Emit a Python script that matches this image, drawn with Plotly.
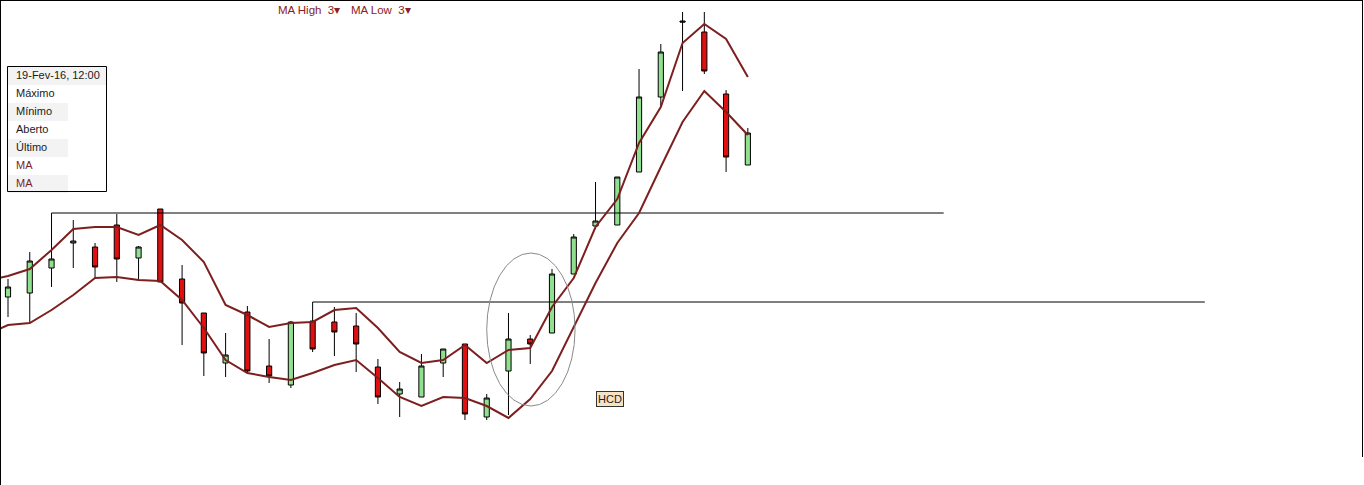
import plotly.graph_objects as go

# ---------------- data ----------------
idx = list(range(1, 36))
opens = [20.3, 20.7, 23.2, 25.7, 25.3, 27.5, 24.2, 29.1, 22.1, 18.7,
         13.7, 18.8, 13.4, 11.5, 17.9, 17.8, 17.4, 13.3, 10.6, 10.3,
         13.7, 15.6, 8.3, 12.9, 16.1, 16.7, 22.6, 27.4, 27.5, 32.8,
         40.3, 47.9, 46.8, 40.6, 33.5]
highs = [22.1, 24.8, 28.7, 28.0, 25.7, 28.6, 25.4, 29.1, 23.5, 18.7,
         16.7, 19.4, 16.1, 17.9, 19.8, 19.3, 18.7, 14.1, 11.8, 14.6,
         15.1, 15.6, 10.6, 18.7, 16.5, 23.1, 26.6, 31.8, 32.3, 43.1,
         45.6, 48.8, 48.8, 41.0, 37.2]
lows = [18.3, 17.7, 21.3, 23.2, 22.2, 21.8, 22.0, 21.8, 15.5, 12.4,
        12.3, 12.8, 11.7, 11.2, 14.8, 14.4, 12.8, 9.6, 8.3, 10.3,
        12.3, 8.0, 8.0, 8.5, 13.6, 16.7, 22.6, 27.3, 27.5, 32.8,
        39.3, 40.9, 42.6, 32.8, 33.5]
closes = [21.3, 23.9, 24.1, 25.9, 23.3, 24.1, 25.3, 21.8, 19.7, 14.7,
          14.5, 12.9, 12.4, 17.8, 15.1, 16.8, 15.6, 10.3, 11.1, 13.4,
          15.1, 8.6, 10.2, 16.1, 15.6, 22.6, 26.3, 27.9, 32.3, 40.3,
          44.8, 47.8, 42.9, 34.3, 36.7]

ma_idx = list(range(0, 36))
ma_high = [21.9, 22.4, 23.1, 25.0, 27.1, 27.3, 27.3, 26.5, 27.5, 26.0,
           23.8, 19.5, 18.5, 17.3, 17.7, 17.8, 19.0, 19.2, 17.2, 14.8,
           13.7, 14.0, 15.5, 13.7, 15.0, 15.2, 19.3, 22.2, 27.3, 30.1,
           35.7, 39.3, 45.7, 47.6, 46.1, 42.3]
ma_low = [16.5, 17.5, 17.7, 19.0, 20.5, 22.2, 22.3, 22.0, 21.9, 20.0,
          17.2, 14.0, 12.7, 12.3, 12.0, 12.7, 13.5, 14.0, 12.2, 10.3,
          9.4, 10.3, 10.2, 9.4, 8.2, 10.1, 12.9, 17.3, 21.7, 25.7,
          28.7, 33.3, 37.8, 40.9, 38.8, 36.5]

# horizontal resistance lines: (start index, end index, level)
hline1_x = [3, 44]
hline1_y = [28.7, 28.7]
hline2_x = [15, 56]
hline2_y = [19.8, 19.8]

# ellipse (data coords)
ell_x = [23.0, 27.06]
ell_y = [9.4, 24.7]

hcd_x, hcd_y, hcd_text = 28.67, 10.1, "HCD"

legend_title = "19-Fev-16, 12:00"
legend_rows = ["Máximo", "Mínimo", "Aberto", "Último", "MA", "MA"]
top_labels = ["MA High  3▾", "MA Low  3▾"]

W, H = 1364, 485
MA_COLOR = "#7d1f1f"
FONT = "Liberation Sans, Arial, sans-serif"


def px(x):
    return x / W


def py(y):
    return 1 - y / H


fig = go.Figure()

fig.add_trace(go.Candlestick(
    x=idx, open=opens, high=highs, low=lows, close=closes,
    increasing=dict(line=dict(color="#000000", width=1), fillcolor="#90e090"),
    decreasing=dict(line=dict(color="#000000", width=1), fillcolor="#e01010"),
    whiskerwidth=0, showlegend=False, hoverinfo="skip",
))

fig.add_trace(go.Scatter(x=hline1_x, y=hline1_y, mode="lines",
                         line=dict(color="#000000", width=1), showlegend=False, hoverinfo="skip"))
fig.add_trace(go.Scatter(x=hline2_x, y=hline2_y, mode="lines",
                         line=dict(color="#000000", width=1), showlegend=False, hoverinfo="skip"))

fig.add_trace(go.Scatter(x=ma_idx, y=ma_high, mode="lines",
                         line=dict(color=MA_COLOR, width=2), showlegend=False, hoverinfo="skip"))
fig.add_trace(go.Scatter(x=ma_idx, y=ma_low, mode="lines",
                         line=dict(color=MA_COLOR, width=2), showlegend=False, hoverinfo="skip"))

shapes = []
shapes.append(dict(type="circle", xref="x", yref="y", x0=ell_x[0], x1=ell_x[1],
                   y0=ell_y[0], y1=ell_y[1], line=dict(color="#8a8a8a", width=1)))
# frame
shapes.append(dict(type="line", xref="paper", yref="paper", x0=0, x1=px(1363),
                   y0=py(0.5), y1=py(0.5), line=dict(color="#000", width=1)))
shapes.append(dict(type="line", xref="paper", yref="paper", x0=px(0.5), x1=px(0.5),
                   y0=0, y1=1, line=dict(color="#000", width=1)))
shapes.append(dict(type="line", xref="paper", yref="paper", x0=px(1362.5), x1=px(1362.5),
                   y0=py(457), y1=1, line=dict(color="#000", width=1)))

# legend box
shapes.append(dict(type="rect", xref="paper", yref="paper", x0=px(8), x1=px(106),
                   y0=py(85), y1=py(67), fillcolor="#f3f3f3", line=dict(width=0), layer="below"))
for r in (1, 3, 5):
    top = 85 + 18 * r
    shapes.append(dict(type="rect", xref="paper", yref="paper", x0=px(8), x1=px(68),
                       y0=py(top + 18), y1=py(top), fillcolor="#f3f3f3",
                       line=dict(width=0), layer="below"))
shapes.append(dict(type="rect", xref="paper", yref="paper", x0=px(7.5), x1=px(106.5),
                   y0=py(191.5), y1=py(66.5), line=dict(color="#000", width=1)))

annotations = []
annotations.append(dict(xref="paper", yref="paper", x=px(14), y=py(75), text=legend_title,
                        showarrow=False, xanchor="left", yanchor="middle",
                        font=dict(family=FONT, size=11, color="#1a1a1a")))
for i, name in enumerate(legend_rows):
    color = MA_COLOR if name == "MA" else "#1a1a1a"
    annotations.append(dict(xref="paper", yref="paper", x=px(14), y=py(93 + 18 * i), text=name,
                            showarrow=False, xanchor="left", yanchor="middle",
                            font=dict(family=FONT, size=11, color=color)))

annotations.append(dict(xref="paper", yref="paper", x=px(276), y=py(10), text=top_labels[0],
                        showarrow=False, xanchor="left", yanchor="middle",
                        font=dict(family=FONT, size=11.5, color="#8b2020")))
annotations.append(dict(xref="paper", yref="paper", x=px(349), y=py(10), text=top_labels[1],
                        showarrow=False, xanchor="left", yanchor="middle",
                        font=dict(family=FONT, size=11.5, color="#8b2020")))

annotations.append(dict(xref="x", yref="y", x=hcd_x, y=hcd_y, text=hcd_text, showarrow=False,
                        bgcolor="#f8e2c4", bordercolor="#333", borderwidth=1, borderpad=1,
                        font=dict(family=FONT, size=11, color="#222")))

x0 = 1 - 8 / 21.76
x1 = 1 + (W - 8) / 21.76

fig.update_layout(
    width=W, height=H,
    margin=dict(l=0, r=0, t=0, b=0),
    paper_bgcolor="#ffffff", plot_bgcolor="#ffffff",
    showlegend=False,
    boxgap=0.66,
    xaxis=dict(range=[x0, x1], showgrid=False, zeroline=False, showticklabels=False,
               ticks="", rangeslider=dict(visible=False), type="linear", fixedrange=True),
    yaxis=dict(range=[50 - H / 10, 50], showgrid=False, zeroline=False, showticklabels=False,
               ticks="", fixedrange=True),
    shapes=shapes, annotations=annotations,
)

fig.write_html("out.html", config=dict(displayModeBar=False),
               post_script="document.body.style.margin='0';document.body.style.overflow='hidden';")
